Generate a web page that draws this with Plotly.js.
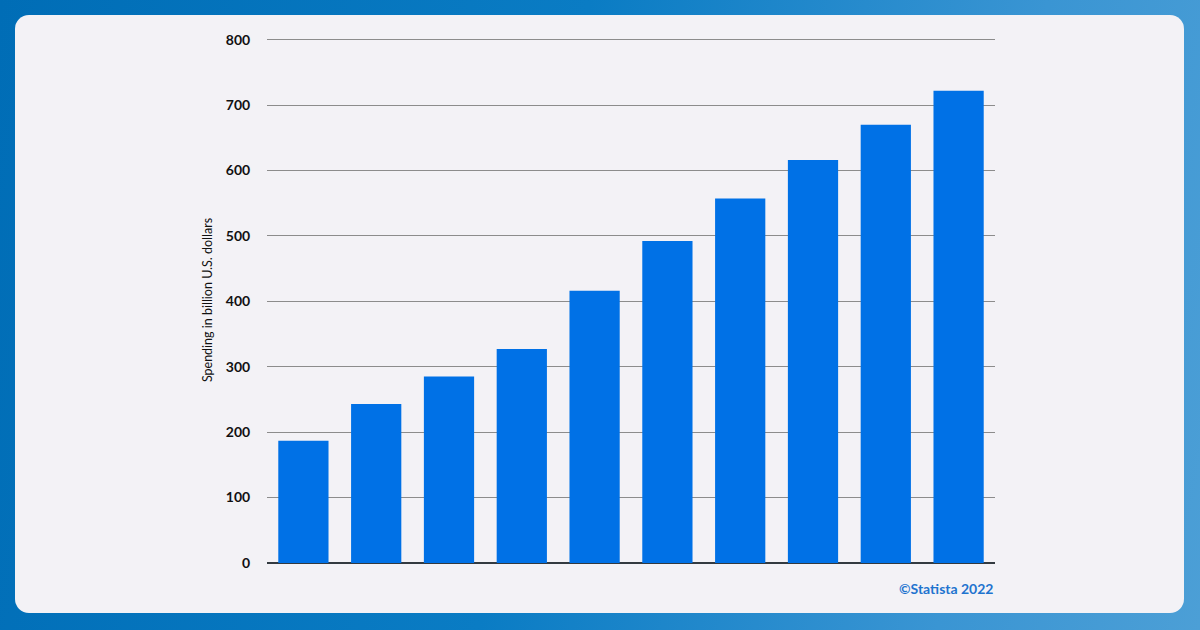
<!DOCTYPE html>
<html>
<head>
<meta charset="utf-8">
<script src="https://cdn.plot.ly/plotly-3.0.1.min.js"></script>
<style>
  html, body { margin: 0; padding: 0; width: 1200px; height: 630px; overflow: hidden; }
  body { background: linear-gradient(100deg, #006db6 0%, #0a7cc4 45%, #3a95d3 80%, #4c9fd6 100%); }
  #card { position: absolute; left: 15px; top: 15px; width: 1169px; height: 598px;
          background: #f3f2f6; border-radius: 14px; }
  #plot { position: absolute; left: 0; top: 0; width: 1200px; height: 630px; }
</style>
</head>
<body>
<div id="card"></div>
<div id="plot"></div>
<script>
"use strict";

// Ten bars, no category labels shown in the source picture.
const categories = ["1", "2", "3", "4", "5", "6", "7", "8", "9", "10"];
const spending   = [187, 243, 285, 327, 416, 492, 557, 616, 670, 722];
const yTicks     = [0, 100, 200, 300, 400, 500, 600, 700, 800];

const traces = [{
    type: "bar",
    x: categories, y: spending,
    marker: { color: "#0071e6" },
    hoverinfo: "y",
}];

// Range stops a hair above 800 so the top gridline is still drawn.
const layout = {
    width: 1200, height: 630,
    margin: { l: 267, r: 205, t: 37.4, b: 67 },
    paper_bgcolor: "rgba(0,0,0,0)",
    plot_bgcolor: "rgba(0,0,0,0)",
    bargap: 0.31,
    showlegend: false,
    font: { family: "Lato, 'Open Sans', sans-serif", color: "#111" },
    xaxis: {
        showticklabels: false, showgrid: false, zeroline: false,
        showline: false, fixedrange: true,
    },
    yaxis: {
        range: [0, 804], tickvals: yTicks,
        tickfont: { size: 14, weight: 700, color: "#111" },
        ticks: "outside", ticklen: 13, tickcolor: "rgba(0,0,0,0)",
        gridcolor: "#8c8c8c", gridwidth: 1,
        zeroline: true, zerolinecolor: "#333a40", zerolinewidth: 2,
        title: { text: "Spending in billion U.S. dollars",
                 font: { size: 12.5, color: "#111" }, standoff: 10 },
        automargin: false,
    },
    annotations: [{
        text: "<b>©Statista 2022</b>",
        xref: "paper", yref: "paper", x: 1, y: -0.028,
        xanchor: "right", yanchor: "top", showarrow: false,
        font: { size: 14, color: "#1f74cf" },
    }],
};

Plotly.newPlot("plot", traces, layout, { displayModeBar: false, staticPlot: true });
</script>
</body>
</html>
